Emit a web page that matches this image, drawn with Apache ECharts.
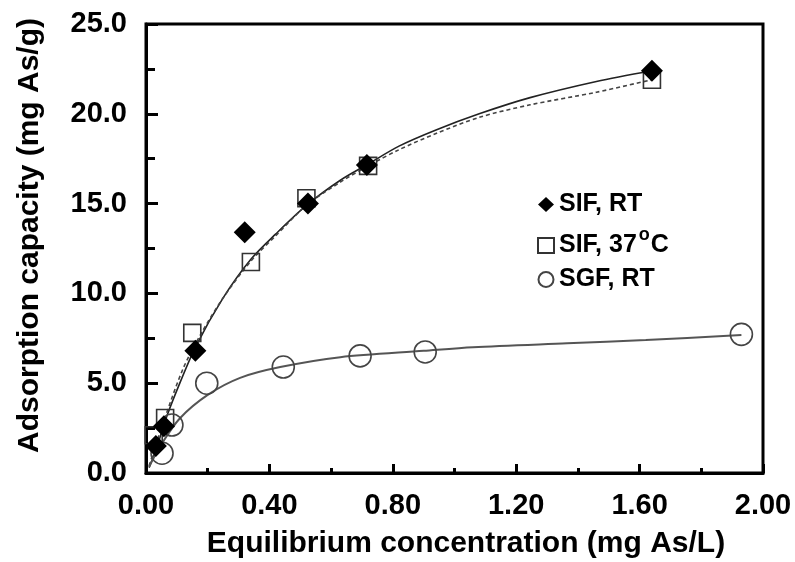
<!DOCTYPE html>
<html><head><meta charset="utf-8">
<script src="https://cdn.jsdelivr.net/npm/echarts@6/dist/echarts.min.js"></script>
<style>html,body{margin:0;padding:0;background:#fff}#c{width:795px;height:562px}</style>
</head><body><div id="c"></div>
<script>
// Tick labels
const xTickValues = [0, 0.4, 0.8, 1.2, 1.6, 2.0];
const yTickValues = [0, 5, 10, 15, 20, 25];
// Measured points [C, q]
const sifRT = [[0.032,1.5],[0.058,2.6],[0.16,6.8],[0.32,13.4],[0.525,15.0],[0.716,17.15],[1.64,22.4]];
const sif37 = [[0.025,2.1],[0.062,3.06],[0.15,7.8],[0.34,11.75],[0.52,15.3],[0.72,17.1],[1.64,21.9]];
const sgfRT = [[0.052,1.1],[0.084,2.67],[0.197,5.0],[0.445,5.9],[0.694,6.52],[0.905,6.74],[1.93,7.72]];
// Fitted curves
const sifRTFit = [[0.01,0.3],[0.035,1.4],[0.06,2.8],[0.1,4.6],[0.16,7.0],[0.25,9.75],[0.34,11.9],[0.42,13.3],[0.52,14.9],[0.63,16.3],[0.72,17.2],[0.82,18.2],[0.94,19.1],[1.08,20.0],[1.245,20.9],[1.46,21.8],[1.64,22.4]];
const sif37Fit = [[0.01,0.4],[0.06,3.0],[0.12,5.8],[0.18,7.8],[0.25,9.75],[0.34,11.8],[0.42,13.2],[0.52,14.9],[0.63,16.2],[0.72,17.1],[0.82,18.0],[0.94,18.9],[1.08,19.8],[1.245,20.5],[1.46,21.2],[1.64,21.9]];
const sgfRTFit = [[0.01,0.35],[0.05,1.6],[0.11,3.05],[0.2,4.35],[0.305,5.3],[0.435,5.9],[0.63,6.45],[0.9,6.8],[1.06,7.0],[1.365,7.22],[1.62,7.4],[1.93,7.68]];

const FONT = '"Liberation Sans", Arial, sans-serif';
const chart = echarts.init(document.getElementById('c'), null, {renderer: 'canvas'});
chart.setOption({
  animation: false,
  backgroundColor: '#fff',
  grid: {left: 146, top: 24, right: 32, bottom: 89, containLabel: false, outerBoundsMode: 'none',
    show: true, borderColor: '#000', borderWidth: 3, backgroundColor: 'transparent'},
  legend: {
    orient: 'vertical', left: 532, top: 187, itemWidth: 16, itemHeight: 15, itemGap: 9,
    data: ['SIF, RT', 'SIF, 37C', 'SGF, RT'],
    textStyle: {fontFamily: FONT, fontSize: 25, fontWeight: 'bold', color: '#000', lineHeight: 25,
      rich: {n: {fontFamily: FONT, fontSize: 25, fontWeight: 'bold', color: '#000', lineHeight: 25},
             s: {fontFamily: FONT, fontSize: 18, fontWeight: 'bold', color: '#000', lineHeight: 11, verticalAlign: 'top', padding: [-7,1,0,2]}}},
    formatter: function (name) {
      if (name === 'SIF, 37C') return '{n|SIF, 37}{s|o}{n|C}';
      return '{n|' + name + '}';
    }
  },
  xAxis: {
    type: 'value', min: 0, max: 2, interval: 0.4,
    name: 'Equilibrium concentration (mg As/L)', nameLocation: 'middle', nameGap: 56,
    nameTextStyle: {fontFamily: FONT, fontSize: 30, fontWeight: 'bold', color: '#000', padding: [0,0,0,23]},
    axisLine: {show: true, lineStyle: {color: '#000', width: 3}},
    axisTick: {show: true, inside: true, length: 9, lineStyle: {color: '#000', width: 3}},
    minorTick: {show: true, splitNumber: 2, length: 5, lineStyle: {color: '#000', width: 3}},
    splitLine: {show: false},
    axisLabel: {margin: 18, fontFamily: FONT, fontSize: 29, fontWeight: 'bold', color: '#000',
      formatter: v => xTickValues.some(t => Math.abs(t - v) < 1e-9) ? v.toFixed(2) : ''}
  },
  yAxis: {
    type: 'value', min: 0, max: 25, interval: 5,
    name: 'Adsorption capacity (mg As/g)', nameLocation: 'middle', nameGap: 101,
    nameTextStyle: {fontFamily: FONT, fontSize: 30, fontWeight: 'bold', color: '#000', padding: [0,0,0,26]},
    axisLine: {show: true, lineStyle: {color: '#000', width: 3}},
    axisTick: {show: true, inside: true, length: 12, lineStyle: {color: '#000', width: 3}},
    minorTick: {show: true, splitNumber: 2, length: 9, lineStyle: {color: '#000', width: 3}},
    splitLine: {show: false},
    axisLabel: {margin: 19, fontFamily: FONT, fontSize: 29, fontWeight: 'bold', color: '#000',
      formatter: v => yTickValues.some(t => Math.abs(t - v) < 1e-9) ? v.toFixed(1) : ''}
  },
  series: [
    {name: 'fit SIF RT', type: 'line', data: sifRTFit, smooth: 0.3, showSymbol: false, symbol: 'none',
      lineStyle: {color: '#222', width: 1.6}, z: 2},
    {name: 'fit SIF 37', type: 'line', data: sif37Fit, smooth: 0.3, showSymbol: false, symbol: 'none',
      lineStyle: {color: '#444', width: 1.6, type: [4, 3]}, z: 2},
    {name: 'fit SGF RT', type: 'line', data: sgfRTFit, smooth: 0.3, showSymbol: false, symbol: 'none',
      lineStyle: {color: '#555', width: 2}, z: 2},
    {name: 'SIF, 37C', type: 'scatter', data: sif37, symbol: 'rect', symbolSize: 17,
      itemStyle: {color: 'rgba(0,0,0,0)', borderColor: '#333', borderWidth: 1.6, opacity: 1}, z: 3},
    {name: 'SGF, RT', type: 'scatter', data: sgfRT, symbol: 'circle', symbolSize: 22,
      itemStyle: {color: 'rgba(0,0,0,0)', borderColor: '#444', borderWidth: 1.6, opacity: 1}, z: 3},
    {name: 'SIF, RT', type: 'scatter', data: sifRT, symbol: 'diamond', symbolSize: 22,
      itemStyle: {color: '#000', borderColor: '#000', borderWidth: 0, opacity: 1}, z: 4}
  ]
});
</script></body></html>
